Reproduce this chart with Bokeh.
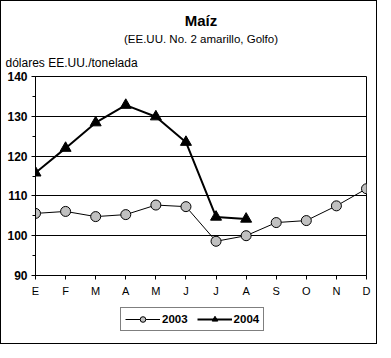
from bokeh.plotting import figure
from bokeh.layouts import column
from bokeh.models import (Title, Legend, LegendItem, FixedTicker, SingleIntervalTicker, Range1d)
from bokeh.embed import file_html
from bokeh.resources import INLINE

months = ["E", "F", "M", "A", "M", "J", "J", "A", "S", "O", "N", "D"]
x_idx = list(range(len(months)))
y2003 = [105.6, 106.1, 104.8, 105.3, 107.7, 107.3, 98.6, 100.0, 103.3, 103.8, 107.5, 111.8]
y2004 = [115.8, 122.0, 128.4, 132.8, 129.9, 123.5, 104.7, 104.2]
x2004 = x_idx[:len(y2004)]

FONT = "Liberation Sans"

p = figure(width=375, height=300, output_backend="svg", toolbar_location=None,
           x_range=Range1d(0, 11), y_range=Range1d(90, 140),
           min_border_left=34, min_border_right=10, min_border_top=75, min_border_bottom=26,
           title=None)
p.outline_line_color = "black"
p.outline_line_width = 1
p.background_fill_color = "white"
p.border_fill_color = "white"

# axes
p.xaxis.ticker = FixedTicker(ticks=x_idx)
p.xaxis.major_label_overrides = {i: m for i, m in enumerate(months)}
p.xaxis.major_tick_out = 4
p.xaxis.major_tick_in = 0
p.xaxis.minor_tick_out = 0
p.xaxis.axis_line_color = "black"
p.xaxis.major_label_text_font = FONT
p.xaxis.major_label_text_font_size = "11px"
p.xaxis.major_label_text_color = "black"
p.xaxis.major_label_standoff = 5

p.yaxis.ticker = SingleIntervalTicker(interval=10, num_minor_ticks=2)
p.yaxis.major_tick_out = 4
p.yaxis.major_tick_in = 0
p.yaxis.minor_tick_out = 3
p.yaxis.minor_tick_in = 0
p.yaxis.axis_line_color = "black"
p.yaxis.major_label_text_font = FONT
p.yaxis.major_label_text_font_size = "12px"
p.yaxis.major_label_text_font_style = "bold"
p.yaxis.major_label_text_color = "black"
p.yaxis.major_label_standoff = 4

p.xgrid.grid_line_color = None
p.ygrid.grid_line_color = "black"
p.ygrid.grid_line_width = 1
p.ygrid.grid_line_alpha = 1

# series
p.line(x_idx, y2003, line_color="black", line_width=1)
p.scatter(x_idx, y2003, marker="circle", size=10, fill_color="#C0C0C0", line_color="black", line_width=1)
p.line(x2004, y2004, line_color="black", line_width=2)
p.scatter(x2004, y2004, marker="triangle", size=11, fill_color="black", line_color="black")

# texts (added closest-first)
p.add_layout(Title(text="dólares EE.UU./tonelada", align="left", offset=-30, standoff=14,
                   text_font=FONT, text_font_size="12px", text_font_style="normal",
                   text_color="black"), "above")
p.add_layout(Title(text="(EE.UU. No. 2 amarillo, Golfo)", align="center", standoff=4,
                   text_font=FONT, text_font_size="11.5px", text_font_style="normal",
                   text_color="black"), "above")
p.add_layout(Title(text="Maíz", align="center", standoff=0,
                   text_font=FONT, text_font_size="15px", text_font_style="bold",
                   text_color="black"), "above")

# legend strip (separate figure below the chart; series drawn out of its view)
lf = figure(width=375, height=42, output_backend="svg", toolbar_location=None,
            x_range=Range1d(100, 101), y_range=Range1d(0, 1),
            min_border=0, title=None)
lf.axis.visible = False
lf.grid.visible = False
lf.outline_line_color = None
lf.border_fill_color = "white"
lf.background_fill_color = "white"
l03 = lf.line(x_idx, y2003, line_color="black", line_width=1)
s03 = lf.scatter(x_idx, y2003, marker="circle", size=7, fill_color="#C0C0C0", line_color="black", line_width=1)
l04 = lf.line(x2004, y2004, line_color="black", line_width=2)
s04 = lf.scatter(x2004, y2004, marker="triangle", size=8, fill_color="black", line_color="black")

legend = Legend(items=[LegendItem(label="2003", renderers=[l03, s03], index=0),
                       LegendItem(label="2004", renderers=[l04, s04], index=0)],
                location=(85, 12), orientation="horizontal")
legend.label_text_font = FONT
legend.label_text_font_size = "11.5px"
legend.label_text_font_style = "bold"
legend.label_text_color = "black"
legend.glyph_width = 35
legend.glyph_height = 14
legend.label_height = 14
legend.padding = 4
legend.spacing = 9
legend.margin = 0
legend.label_standoff = 2
legend.border_line_color = "black"
legend.border_line_width = 1
legend.background_fill_color = "white"
legend.background_fill_alpha = 1
lf.add_layout(legend, "center")

layout = column(p, lf, spacing=0, styles={"border": "1px solid black"})

open("out.html", "w").write(file_html(layout, INLINE))
